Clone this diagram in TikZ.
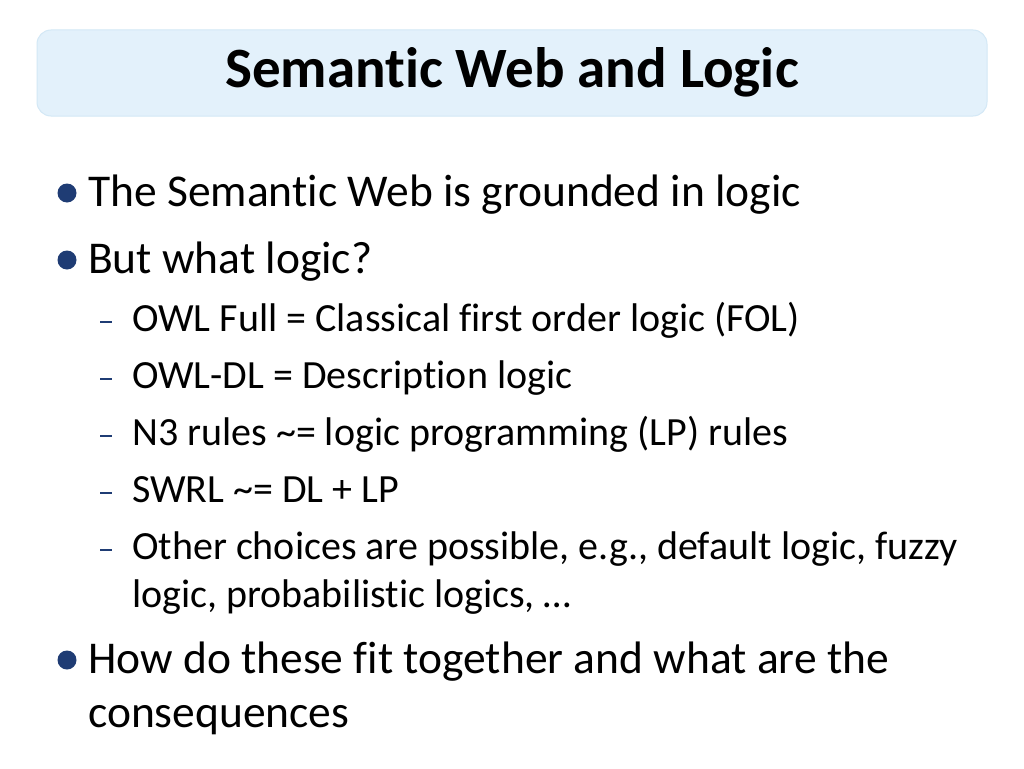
\documentclass[tikz,border=0pt]{standalone}
\usepackage{fontspec}
\setmainfont[Ligatures={NoCommon}]{Carlito}
\definecolor{navy}{HTML}{1F3C74}
\definecolor{titlefill}{HTML}{E3F1FB}
\definecolor{titleline}{HTML}{D3E8F6}
\begin{document}
\begin{tikzpicture}[x=1pt,y=-1pt,
  main/.style={anchor=base west,inner sep=0pt,font=\fontsize{45.5}{54}\selectfont},
  sub/.style={anchor=base west,inner sep=0pt,font=\fontsize{40}{48}\selectfont},
  dot/.style={circle,fill=navy,inner sep=0pt,minimum size=19pt},
  dashmark/.style={navy,line width=1.3pt}]
\useasboundingbox (0,0) rectangle (1024,768);
\fill[white] (0,0) rectangle (1024,768);
\node[draw=titleline,fill=titlefill,rounded corners=14pt,minimum width=950pt,minimum height=86pt,line width=1pt] (tb) at (512,73) {};
\node[font=\fontsize{57}{64}\selectfont\bfseries] (title) at (512,72) {Semantic Web and Logic};
\node[dot] (d1) at (67,193) {};
\node[main] (t1) at (88,206) {The Semantic Web is grounded in logic};
\node[dot] (d2) at (67,260) {};
\node[main] (t2) at (88,273) {But what logic?};
\foreach \y/\txt [count=\i] in {331/{OWL Full = Classical first order logic (FOL)},388/{OWL-DL = Description logic},445/{N3 rules \textasciitilde= logic programming (LP) rules},502/{SWRL \textasciitilde= DL + LP},559/{Other choices are possible, e.g., default logic, fuzzy}}{
  \draw[dashmark] (100,\y-9) -- (112,\y-9);
  \node[sub] (s\i) at (132,\y) {\txt};
}
\node[sub] (s6) at (132,607) {logic, probabilistic logics, …};
\node[dot] (d3) at (67,660) {};
\node[main] (t3) at (88,673) {How do these fit together and what are the};
\node[main] (t4) at (88,727) {consequences};
\end{tikzpicture}
\end{document}
